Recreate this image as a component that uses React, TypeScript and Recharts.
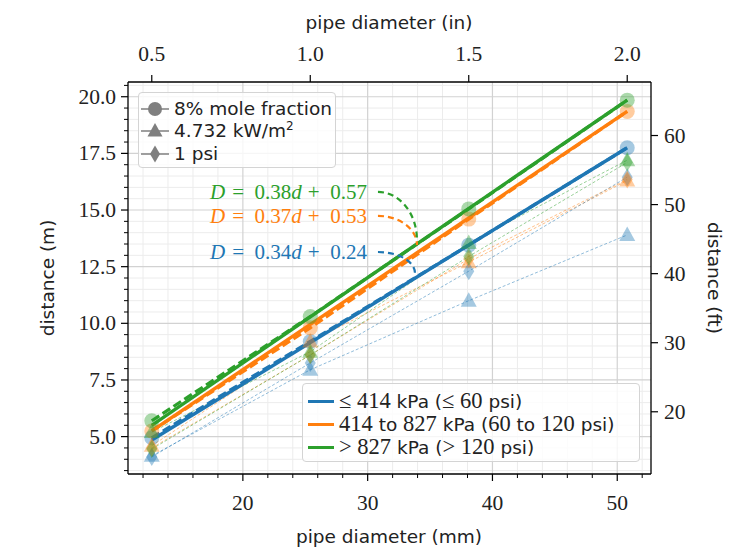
import React from 'react';
import { ComposedChart, XAxis, YAxis, CartesianGrid, Line, Scatter, ReferenceDot } from 'recharts';

// ---------------- data ----------------
const diameterMm = [12.7, 25.4, 38.1, 50.8];
const fitEndsMm = [12.7, 50.8];

// 8% mole fraction (circles)
const moleLow = [4.95, 9.2, 13.45, 17.75];
const moleMid = [5.25, 9.8, 14.6, 19.35];
const moleHigh = [5.7, 10.3, 15.05, 19.85];
// 4.732 kW/m2 (triangles)
const heatLow = [4.15, 7.95, 11.0, 13.9];
const heatMid = [4.6, 9.2, 12.7, 16.3];
const heatHigh = [5.2, 8.75, 13.55, 17.2];
// 1 psi (diamonds)
const psiLow = [4.1, 8.25, 12.3, 16.45];
const psiMid = [4.5, 8.6, 12.85, 16.35];
const psiHigh = [4.45, 8.6, 12.95, 17.1];
// linear fits, values at the two ends
const fitLow = [4.85, 17.75];
const fitMid = [5.25, 19.35];
const fitHigh = [5.5, 19.85];
const fitSlopes = ['0.34', '0.37', '0.38'];
const fitIntercepts = ['0.24', '0.53', '0.57'];
// annotation targets (mm, m)
const annotX = [33.79, 33.95, 33.95];
const annotY = [12.22, 13.46, 13.68];

// ticks
const mmMajor = [20, 30, 40, 50];
const mmMinor = [12, 14, 16, 18, 22, 24, 26, 28, 32, 34, 36, 38, 42, 44, 46, 48, 52];
const mMajor = [5, 7.5, 10, 12.5, 15, 17.5, 20];
const mMinor = [3.5, 4, 4.5, 5.5, 6, 6.5, 7, 8, 8.5, 9, 9.5, 10.5, 11, 11.5, 12, 13, 13.5, 14, 14.5, 15.5, 16, 16.5, 17, 18, 18.5, 19, 19.5, 20.5];
const inchTicks = [0.5, 1.0, 1.5, 2.0];
const ftMajor = [20, 30, 40, 50, 60];

const markerLegendLabels = ['8% mole fraction', '4.732 kW/m', '1 psi'];

// ---------------- style ----------------
const W = 735;
const H = 541;
const BLUE = '#1f77b4';
const ORANGE = '#ff7f0e';
const GREEN = '#2ca02c';
const COLORS = [BLUE, ORANGE, GREEN];
const SERIF = "'Liberation Serif', 'DejaVu Serif', serif";
const SANS = "'DejaVu Sans', sans-serif";
const TICK_FS = 21.5;
const LABEL_FS = 18.5;
const MM_DOMAIN = [10.795, 52.705];
const M_DOMAIN = [3.35, 20.65];
const MM_PER_IN = 25.4;

const toPts = (xs: number[], ys: number[]) => xs.map((x, i) => ({ x, y: ys[i] }));
const isIn = (arr: number[], v: number) => arr.some((a) => Math.abs(a - v) < 1e-9);

function makeTick(orient: 'top' | 'bottom' | 'left' | 'right', majors: number[], fmt: (v: number) => string) {
  return (props: any) => {
    const { x, y, payload } = props;
    const v = payload.value;
    const major = isIn(majors, v);
    const len = major ? 7 : 4;
    const sw = major ? 1.2 : 1;
    let line;
    let label = null;
    const tp = { fontFamily: SERIF, fontSize: TICK_FS, fill: '#222' };
    if (orient === 'bottom') {
      line = <line x1={x} x2={x} y1={y} y2={y + len} stroke="#000" strokeWidth={sw} />;
      if (major) label = <text x={x} y={y + 36} textAnchor="middle" {...tp}>{fmt(v)}</text>;
    } else if (orient === 'top') {
      line = <line x1={x} x2={x} y1={y} y2={y - len} stroke="#000" strokeWidth={sw} />;
      if (major) label = <text x={x} y={y - 21} textAnchor="middle" {...tp}>{fmt(v)}</text>;
    } else if (orient === 'left') {
      line = <line x1={x} x2={x - len} y1={y} y2={y} stroke="#000" strokeWidth={sw} />;
      if (major) label = <text x={x - 12} y={y + 7} textAnchor="end" {...tp}>{fmt(v)}</text>;
    } else {
      line = <line x1={x} x2={x + len} y1={y} y2={y} stroke="#000" strokeWidth={sw} />;
      if (major) label = <text x={x + 13} y={y + 7} textAnchor="start" {...tp}>{fmt(v)}</text>;
    }
    return (
      <g>
        {line}
        {label}
      </g>
    );
  };
}

const inchTicksMm = inchTicks.map((v) => v * MM_PER_IN);
const BottomTick = makeTick('bottom', mmMajor, (v) => String(v));
const TopTick = makeTick('top', inchTicksMm, (v) => (v / MM_PER_IN).toFixed(1));
const LeftTick = makeTick('left', mMajor, (v) => v.toFixed(1));
const RightTick = makeTick('right', ftMajor, (v) => String(v));

const circleShape = (color: string) => (p: any) => (
  <circle cx={p.cx} cy={p.cy} r={7.5} fill={color} fillOpacity={0.4} />
);
const triangleShape = (color: string) => (p: any) => (
  <polygon
    points={`${p.cx},${p.cy - 8.5} ${p.cx - 8},${p.cy + 6} ${p.cx + 8},${p.cy + 6}`}
    fill={color}
    fillOpacity={0.4}
  />
);
const diamondShape = (color: string) => (p: any) => (
  <polygon
    points={`${p.cx},${p.cy - 9} ${p.cx + 5.5},${p.cy} ${p.cx},${p.cy + 9} ${p.cx - 5.5},${p.cy}`}
    fill={color}
    fillOpacity={0.4}
  />
);

// annotation geometry: start of curve relative to arrow end (pixels)
const annotStart = [
  [-37, -21],
  [-39, -29],
  [-39, -48],
];

function annotShape(i: number) {
  return (p: any) => {
    const ex = p.cx;
    const ey = p.cy;
    const [dx, dy] = annotStart[i];
    const sx = ex + dx;
    const sy = ey + dy;
    const w = ex - sx;
    const h = ey - sy;
    const d = `M ${sx} ${sy} C ${sx + 0.552 * w} ${sy}, ${ex} ${ey - 0.552 * h}, ${ex} ${ey}`;
    const color = COLORS[i];
    return (
      <g>
        <path d={d} fill="none" stroke={color} strokeWidth={2.2} strokeDasharray="6 4" />
        <text
          x={sx - 11}
          y={sy + 7}
          textAnchor="end"
          fontFamily={SERIF}
          fontSize={21}
          fill={color}
          style={{ whiteSpace: 'pre' }}
        >
          <tspan fontStyle="italic">D</tspan>
          <tspan dx={7}>{'=  ' + fitSlopes[i]}</tspan>
          <tspan fontStyle="italic">d</tspan>
          <tspan dx={6}>{'+  ' + fitIntercepts[i]}</tspan>
        </text>
      </g>
    );
  };
}

const circleSeries = [moleLow, moleMid, moleHigh];
const triSeries = [heatLow, heatMid, heatHigh];
const diaSeries = [psiLow, psiMid, psiHigh];
const fitSeries = [fitLow, fitMid, fitHigh];

function MarkerIcon({ kind }: { kind: number }) {
  const c = '#7f7f7f';
  const cx = 14;
  const cy = 11;
  let m;
  if (kind === 0) m = <circle cx={cx} cy={cy} r={7} fill={c} />;
  else if (kind === 1) m = <polygon points={`${cx},${cy - 8} ${cx - 7.5},${cy + 5.5} ${cx + 7.5},${cy + 5.5}`} fill={c} />;
  else m = <polygon points={`${cx},${cy - 8.5} ${cx + 5},${cy} ${cx},${cy + 8.5} ${cx - 5},${cy}`} fill={c} />;
  return (
    <svg width={28} height={22} style={{ position: 'absolute', left: 2, top: 0 }}>
      <line x1={0} x2={28} y1={cy} y2={cy} stroke={c} strokeWidth={1.5} />
      {m}
    </svg>
  );
}

const mathSpan = (t: string) => <span style={{ fontFamily: SERIF, fontSize: 22.5 }}>{t}</span>;
const textSpan = (t: string) => <span style={{ fontFamily: SANS, fontSize: LABEL_FS }}>{t}</span>;

const pressureLegendRows = [
  [mathSpan('\u2264 414'), textSpan(' kPa ('), mathSpan('\u2264 60'), textSpan(' psi)')],
  [mathSpan('414'), textSpan(' to '), mathSpan('827'), textSpan(' kPa ('), mathSpan('60'), textSpan(' to '), mathSpan('120'), textSpan(' psi)')],
  [mathSpan('> 827'), textSpan(' kPa ('), mathSpan('> 120'), textSpan(' psi)')],
];

const titleStyle: React.CSSProperties = {
  position: 'absolute',
  fontFamily: SANS,
  fontSize: LABEL_FS,
  whiteSpace: 'nowrap',
  lineHeight: 1,
  color: '#222',
};

export default function App() {
  return (
    <div style={{ position: 'relative', width: W, height: H, background: '#fff' }}>
      <ComposedChart width={W} height={H} margin={{ top: 0, right: 0, bottom: 0, left: 0 }}>
        <CartesianGrid
          xAxisId="mm"
          yAxisId="m"
          verticalValues={mmMinor}
          horizontalValues={mMinor}
          stroke="#ececec"
          strokeWidth={1}
        />
        <CartesianGrid
          xAxisId="mm"
          yAxisId="m"
          verticalValues={mmMajor}
          horizontalValues={mMajor}
          stroke="#d2d2d2"
          strokeWidth={1.2}
        />
        <XAxis
          xAxisId="mm"
          dataKey="x"
          type="number"
          orientation="bottom"
          domain={MM_DOMAIN}
          allowDataOverflow
          ticks={[...mmMinor, ...mmMajor].sort((a, b) => a - b)}
          interval={0}
          height={75}
          tickSize={0}
          tickMargin={0}
          tickLine={false}
          tick={BottomTick}
          axisLine={{ stroke: '#000', strokeWidth: 1.3 }}
        />
        <XAxis
          xAxisId="in"
          dataKey="x"
          type="number"
          orientation="top"
          domain={MM_DOMAIN}
          allowDataOverflow
          ticks={inchTicksMm}
          interval={0}
          height={74}
          tickSize={0}
          tickMargin={0}
          tickLine={false}
          tick={TopTick}
          axisLine={{ stroke: '#000', strokeWidth: 1.3 }}
        />
        <YAxis
          yAxisId="m"
          dataKey="y"
          type="number"
          orientation="left"
          domain={M_DOMAIN}
          allowDataOverflow
          ticks={[...mMinor, ...mMajor].sort((a, b) => a - b)}
          interval={0}
          width={120}
          tickSize={0}
          tickMargin={0}
          tickLine={false}
          tick={LeftTick}
          axisLine={{ stroke: '#000', strokeWidth: 1.3 }}
        />
        <YAxis
          yAxisId="ft"
          type="number"
          orientation="right"
          domain={[10.991, 67.749]}
          allowDataOverflow
          ticks={ftMajor}
          interval={0}
          width={92}
          tickSize={0}
          tickMargin={0}
          tickLine={false}
          tick={RightTick}
          axisLine={{ stroke: '#000', strokeWidth: 1.3 }}
        />

        {/* invisible series that binds the top (inch) axis to the same diameters */}
        <Line
          data={toPts(diameterMm, moleHigh)}
          dataKey="y"
          xAxisId="in"
          yAxisId="m"
          stroke="none"
          strokeWidth={0}
          dot={false}
          activeDot={false}
          isAnimationActive={false}
        />

        {/* thin dashed lines for heat flux and overpressure */}
        {[...triSeries, ...diaSeries].map((s, i) => (
          <Line
            key={`thin-${i}`}
            data={toPts(diameterMm, s)}
            dataKey="y"
            xAxisId="mm"
            yAxisId="m"
            type="linear"
            stroke={COLORS[i % 3]}
            strokeOpacity={0.55}
            strokeWidth={0.9}
            strokeDasharray="3 2"
            dot={false}
            activeDot={false}
            isAnimationActive={false}
          />
        ))}

        {circleSeries.map((s, i) => (
          <Scatter
            key={`c-${i}`}
            data={toPts(diameterMm, s)}
            dataKey="y"
            xAxisId="mm"
            yAxisId="m"
            shape={circleShape(COLORS[i])}
            isAnimationActive={false}
          />
        ))}
        {triSeries.map((s, i) => (
          <Scatter
            key={`t-${i}`}
            data={toPts(diameterMm, s)}
            dataKey="y"
            xAxisId="mm"
            yAxisId="m"
            shape={triangleShape(COLORS[i])}
            isAnimationActive={false}
          />
        ))}
        {diaSeries.map((s, i) => (
          <Scatter
            key={`d-${i}`}
            data={toPts(diameterMm, s)}
            dataKey="y"
            xAxisId="mm"
            yAxisId="m"
            shape={diamondShape(COLORS[i])}
            isAnimationActive={false}
          />
        ))}

        {/* thick dashed lines through mole-fraction points */}
        {circleSeries.map((s, i) => (
          <Line
            key={`cd-${i}`}
            data={toPts(diameterMm, s)}
            dataKey="y"
            xAxisId="mm"
            yAxisId="m"
            type="linear"
            stroke={COLORS[i]}
            strokeWidth={3.2}
            strokeDasharray="9 4"
            dot={false}
            activeDot={false}
            isAnimationActive={false}
          />
        ))}
        {/* thick solid fit lines */}
        {fitSeries.map((s, i) => (
          <Line
            key={`fit-${i}`}
            data={toPts(fitEndsMm, s)}
            dataKey="y"
            xAxisId="mm"
            yAxisId="m"
            type="linear"
            stroke={COLORS[i]}
            strokeWidth={3.4}
            dot={false}
            activeDot={false}
            isAnimationActive={false}
          />
        ))}

        {annotX.map((x, i) => (
          <ReferenceDot
            key={`an-${i}`}
            x={x}
            y={annotY[i]}
            xAxisId="mm"
            yAxisId="m"
            r={0}
            ifOverflow="visible"
            shape={annotShape(i)}
          />
        ))}
      </ComposedChart>

      {/* axis titles */}
      <div style={{ ...titleStyle, left: 381, top: 15, transform: 'translate(-50%, -50%)' }}>pipe diameter (in)</div>
      <div style={{ ...titleStyle, left: 381, top: 529, transform: 'translate(-50%, -50%)' }}>pipe diameter (mm)</div>
      <div style={{ ...titleStyle, left: 40, top: 270, transform: 'translate(-50%, -50%) rotate(-90deg)' }}>distance (m)</div>
      <div style={{ ...titleStyle, left: 706, top: 270, transform: 'translate(-50%, -50%) rotate(90deg)' }}>distance (ft)</div>

      {/* marker legend */}
      <div style={{ position: 'absolute', left: 130, top: 84, width: 198, height: 76, border: '1px solid #d4d4d4', borderRadius: 4, background: 'rgba(255,255,255,0.8)', boxSizing: 'border-box' }}>
        {markerLegendLabels.map((t, i) => (
          <div key={t} style={{ position: 'absolute', left: 0, top: [5, 27, 50][i], height: 22, width: 196 }}>
            <MarkerIcon kind={i} />
            <div style={{ position: 'absolute', left: 35, top: 0, height: 22, lineHeight: '22px', fontFamily: SANS, fontSize: LABEL_FS, whiteSpace: 'nowrap', color: '#222' }}>
              {t}
              {i === 1 ? <sup style={{ fontSize: 12, lineHeight: 0, verticalAlign: '7px' }}>2</sup> : null}
            </div>
          </div>
        ))}
      </div>

      {/* pressure legend */}
      <div style={{ position: 'absolute', left: 294, top: 375, width: 338, height: 79, border: '1px solid #d4d4d4', borderRadius: 4, background: 'rgba(255,255,255,0.8)', boxSizing: 'border-box' }}>
        {pressureLegendRows.map((row, i) => (
          <div key={i} style={{ position: 'absolute', left: 0, top: [6, 29, 52][i], height: 22, width: 336 }}>
            <div style={{ position: 'absolute', left: 5, top: 9.5, width: 26, height: 3.4, background: COLORS[i] }} />
            <div style={{ position: 'absolute', left: 36, top: 0, height: 22, lineHeight: '22px', whiteSpace: 'pre', color: '#222' }}>
              {row.map((el, j) => (
                <React.Fragment key={j}>{el}</React.Fragment>
              ))}
            </div>
          </div>
        ))}
      </div>
    </div>
  );
}
